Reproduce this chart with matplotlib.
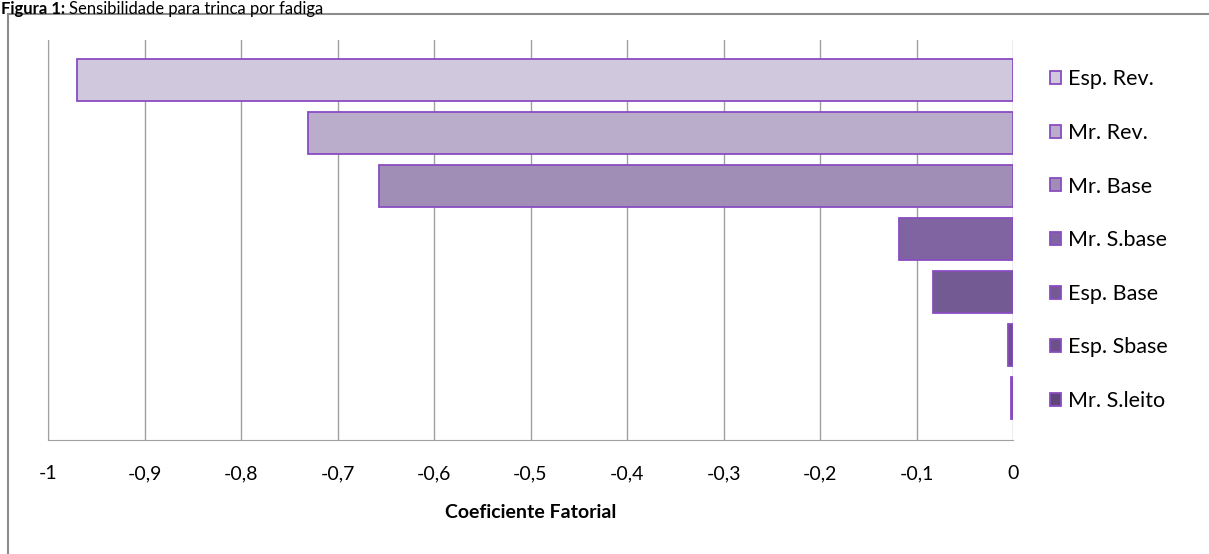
import matplotlib
matplotlib.use("Agg")
import matplotlib.pyplot as plt
from matplotlib.patches import Rectangle
from matplotlib.ticker import FuncFormatter

# series (one bar each), top to bottom
fatores = ["Esp. Rev.", "Mr. Rev.", "Mr. Base", "Mr. S.base", "Esp. Base", "Esp. Sbase", "Mr. S.leito"]
coeficientes = [-0.970, -0.731, -0.657, -0.118, -0.083, -0.005, -0.002]
cores = ["#D0C8DC", "#B9ADCB", "#A08EB7", "#8064A2", "#745A93", "#6A5187", "#5D4778"]
borda = "#8A4CC2"
x_ticks = [-1, -0.9, -0.8, -0.7, -0.6, -0.5, -0.4, -0.3, -0.2, -0.1, 0]

plt.rcParams['font.family'] = ['Lato', 'DejaVu Sans']

fig = plt.figure(figsize=(12.09, 5.54), dpi=100)
W, H = 1209, 554

# chart border (cut by the page at right/bottom)
fig.add_artist(Rectangle((8 / W, -0.05), 1.2, (554 - 14) / H + 0.05, transform=fig.transFigure,
                         fill=False, edgecolor="#8C8C8C", linewidth=1.5))
titulo = fig.text(1 / W, 1 - 1 / H, "Figura 1: ", fontsize=12, fontweight="bold", va="top", ha="left")
fig.canvas.draw()
bb = titulo.get_window_extent()
fig.text(bb.x1 / W, 1 - 1 / H, "Sensibilidade para trinca por fadiga", fontsize=12, va="top", ha="left")

ax = fig.add_axes([48 / W, 1 - 440 / H, (1013 - 48) / W, (440 - 40) / H])

n = len(fatores)
altura = 0.8
for i, (nome, v, c) in enumerate(zip(fatores, coeficientes, cores)):
    ax.barh(n - 1 - i, v, height=altura, color=c, edgecolor=borda, linewidth=1.3, label=nome, zorder=3)

ax.set_xlim(-1, 0)
ax.set_ylim(-0.8, n - 0.24)
ax.set_xticks(x_ticks)
ax.xaxis.set_major_formatter(FuncFormatter(lambda v, p: ("%g" % round(v, 1)).replace(".", ",")))
ax.set_yticks([])
ax.grid(axis="x", color="#A0A0A0", linewidth=1, zorder=0)
ax.tick_params(axis="x", length=0, pad=18, labelsize=14)
for s in ["top", "right"]:
    ax.spines[s].set_visible(False)
for s in ["left", "bottom"]:
    ax.spines[s].set_color("#A0A0A0")
ax.set_xlabel("Coeficiente Fatorial", fontsize=14, fontweight="bold", labelpad=16)

leg = ax.legend(loc="upper left", bbox_to_anchor=(1.029, 0.948), frameon=False, fontsize=15.5,
                handlelength=0.55, handleheight=0.55, handletextpad=0.3, labelspacing=1.56,
                borderaxespad=0)

fig.savefig("out.png", dpi=100)
